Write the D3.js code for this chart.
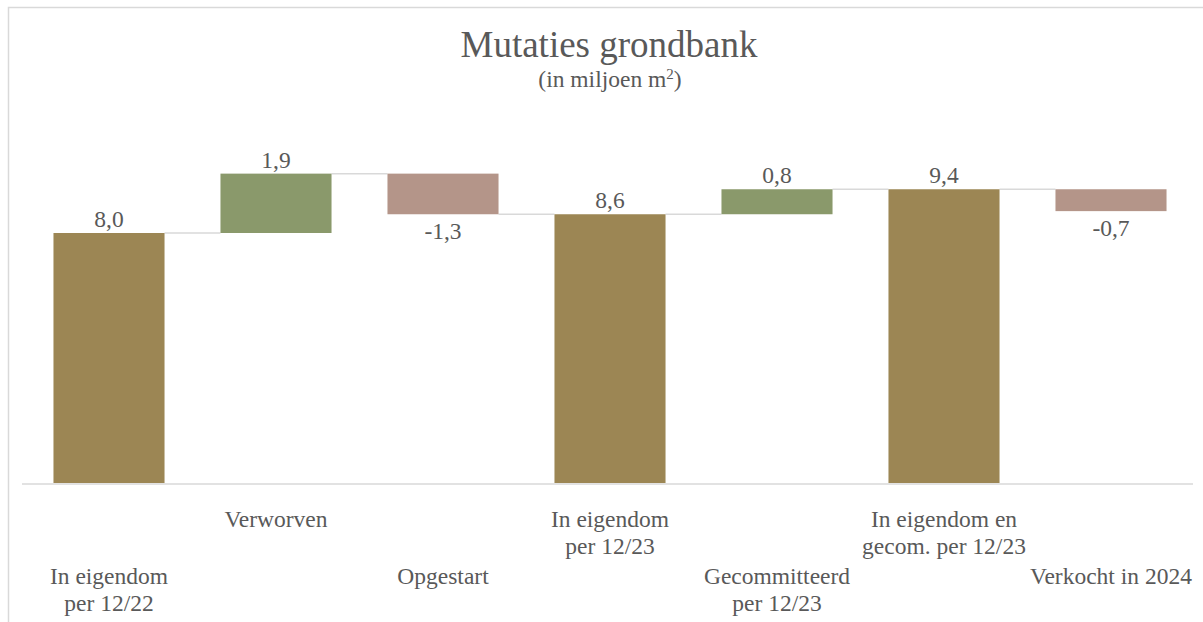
<!DOCTYPE html>
<html><head><meta charset="utf-8">
<script src="https://cdn.jsdelivr.net/npm/d3@7"></script>
<style>body{margin:0;background:#fff}svg{display:block}</style>
</head><body><svg id="c" width="1203" height="622"></svg>
<script>
const categories = [
  ["In eigendom","per 12/22"],
  ["Verworven"],
  ["Opgestart"],
  ["In eigendom","per 12/23"],
  ["Gecommitteerd","per 12/23"],
  ["In eigendom en","gecom. per 12/23"],
  ["Verkocht in 2024"]
];
const values = [8.0, 1.9, -1.3, 8.6, 0.8, 9.4, -0.7];
const kinds = ["total","increase","decrease","total","increase","total","decrease"];
const labelRow = [1,0,1,0,1,0,1];
const colors = {total:"#9c8654", increase:"#8a996b", decrease:"#b49589"};

const svg = d3.select("#c");
const fmt = v => d3.format(".1f")(v).replace(".", ",").replace("−","-");

// frame
svg.append("path").attr("d", "M8.5,622 L8.5,7.5 L1210,7.5").attr("fill","none").attr("stroke","#d9d9d9").attr("stroke-width",1.5);

// compute waterfall
let run = 0;
const bars = values.map((v,i) => {
  let y0, y1;
  if (kinds[i] === "total") { y0 = 0; y1 = v; run = v; }
  else { y0 = run; y1 = run + v; run = y1; }
  return {i, v, kind: kinds[i], y0, y1, end: run};
});

const x = d3.scaleBand().domain(d3.range(categories.length)).range([25.5, 1194.5]).paddingInner(0.335).paddingOuter(0.1675);
const y = d3.scaleLinear().domain([0, 10]).range([483, 170.5]);

// connectors
const g = svg.append("g");
bars.slice(0, -1).forEach(b => {
  const yy = y(b.end);
  g.append("line").attr("x1", x(b.i) + x.bandwidth()).attr("x2", x(b.i + 1))
    .attr("y1", yy).attr("y2", yy).attr("stroke", "#d9d9d9").attr("stroke-width", 1.5);
});

// bars
g.selectAll("rect.bar").data(bars).join("rect")
  .attr("x", d => x(d.i)).attr("width", x.bandwidth())
  .attr("y", d => y(Math.max(d.y0, d.y1)))
  .attr("height", d => Math.abs(y(d.y0) - y(d.y1)))
  .attr("fill", d => colors[d.kind]);

// axis line
svg.append("line").attr("x1", 22).attr("x2", 1193).attr("y1", y(0)+1).attr("y2", y(0)+1)
  .attr("stroke", "#d9d9d9").attr("stroke-width", 1.5);

// data labels
const font = "'Liberation Serif','Times New Roman',serif";
g.selectAll("text.val").data(bars).join("text")
  .attr("x", d => x(d.i) + x.bandwidth()/2)
  .attr("y", d => d.v >= 0 ? y(Math.max(d.y0,d.y1)) - 6 : y(Math.min(d.y0,d.y1)) + 25)
  .attr("text-anchor", "middle").attr("font-family", font).attr("font-size", 23.5)
  .attr("fill", "#595959").text(d => fmt(d.v));

// category labels
categories.forEach((lines, i) => {
  const t = svg.append("text").attr("text-anchor", "middle").attr("font-family", font)
    .attr("font-size", 23.5).attr("fill", "#595959");
  const base = labelRow[i] === 0 ? 527 : 584;
  lines.forEach((l, j) => t.append("tspan").attr("x", x(i) + x.bandwidth()/2).attr("y", base + j*26.5).text(l));
});

// title
svg.append("text").attr("x", 609).attr("y", 57).attr("text-anchor", "middle").attr("font-family", font)
  .attr("font-size", 37).attr("fill", "#595959").text("Mutaties grondbank");
const sub = svg.append("text").attr("x", 610).attr("y", 87).attr("text-anchor", "middle").attr("font-family", font)
  .attr("font-size", 23.5).attr("fill", "#595959");
sub.append("tspan").text("(in miljoen m");
sub.append("tspan").attr("font-size", 15).attr("dy", -8).text("2");
sub.append("tspan").attr("dy", 8).text(")");
</script></body></html>
